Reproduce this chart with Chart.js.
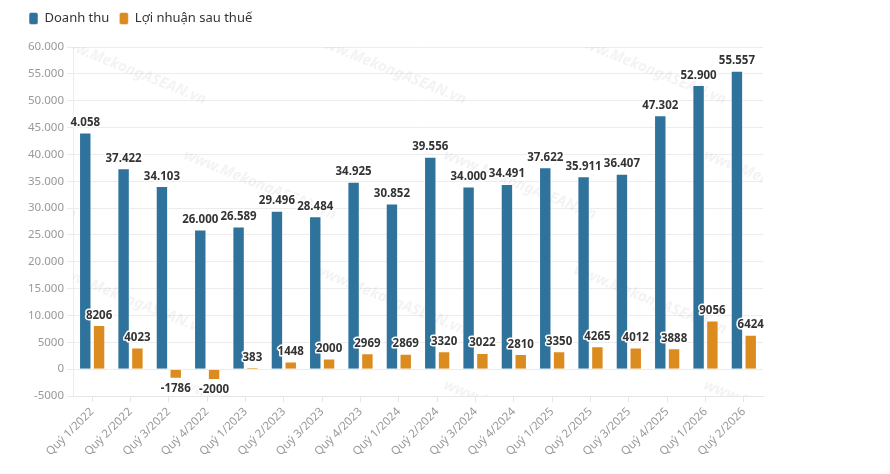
<!DOCTYPE html>
<html>
<head>
<meta charset="utf-8">
<script src="https://cdn.jsdelivr.net/npm/chart.js@4/dist/chart.umd.min.js"></script>
<style>
  html, body { margin: 0; padding: 0; background: #fff; }
  #wrap { width: 890px; height: 474px; }
</style>
</head>
<body>
<div id="wrap"><canvas id="myChart" width="890" height="474"></canvas></div>
<script>
// categories + series
const quarters = ["Quý 1/2022", "Quý 2/2022", "Quý 3/2022", "Quý 4/2022", "Quý 1/2023", "Quý 2/2023",
  "Quý 3/2023", "Quý 4/2023", "Quý 1/2024", "Quý 2/2024", "Quý 3/2024", "Quý 4/2024",
  "Quý 1/2025", "Quý 2/2025", "Quý 3/2025", "Quý 4/2025", "Quý 1/2026", "Quý 2/2026"];
const doanhThu = [44058, 37422, 34103, 26000, 26589, 29496, 28484, 34925, 30852, 39556, 34000, 34491,
  37622, 35911, 36407, 47302, 52900, 55557];
const loiNhuan = [8206, 4023, -1786, -2000, 383, 1448, 2000, 2969, 2869, 3320, 3022, 2810,
  3350, 4265, 4012, 3888, 9056, 6424];
// the source shows a truncated label on the first bar
const labelOverride = { 0: "4.058" };
const yMin = -5000, yMax = 60000, yStep = 5000;

function fmt(v) {
  if (Math.abs(v) >= 10000) return v.toLocaleString("de-DE");
  return String(v);
}

const FONT = "'Noto Sans', 'Open Sans', sans-serif";

// legend height tweak
const legendFit = {
  id: "legendFit",
  beforeInit(chart) {
    const orig = chart.legend.fit;
    chart.legend.fit = function () {
      orig.call(this);
      this.height = 45;
    };
  }
};

// faint watermark behind the bars
const watermark = {
  id: "watermark",
  beforeDatasetsDraw(chart) {
    const { ctx, chartArea: a } = chart;
    ctx.save();
    ctx.beginPath();
    ctx.rect(a.left, a.top, a.right - a.left, a.bottom - a.top);
    ctx.clip();
    ctx.font = "italic bold 15px " + FONT;
    ctx.fillStyle = "rgba(170,170,170,0.14)";
    ctx.textAlign = "center";
    ctx.textBaseline = "middle";
    let row = 0;
    for (let y = 70; y < 460; y += 115, row++) {
      for (let x = (row % 2 ? 0 : 130); x < 900; x += 260) {
        ctx.save();
        ctx.translate(x, y);
        ctx.rotate(22 * Math.PI / 180);
        ctx.fillText("www.MekongASEAN.vn", 0, 0);
        ctx.restore();
      }
    }
    ctx.restore();
  }
};

// value labels above/below bars with white halo
const valueLabels = {
  id: "valueLabels",
  afterDatasetsDraw(chart) {
    const ctx = chart.ctx;
    ctx.save();
    ctx.font = "bold 11.5px " + FONT;
    ctx.textAlign = "center";
    ctx.lineJoin = "round";
    ctx.lineWidth = 3;
    ctx.strokeStyle = "#fff";
    ctx.fillStyle = "#333";
    chart.data.datasets.forEach((ds, di) => {
      const meta = chart.getDatasetMeta(di);
      meta.data.forEach((bar, i) => {
        const v = ds.data[i];
        let txt = fmt(v);
        if (di === 0 && labelOverride[i]) txt = labelOverride[i];
        let y;
        if (v >= 0) {
          ctx.textBaseline = "bottom";
          y = bar.y - 4;
        } else {
          ctx.textBaseline = "top";
          y = bar.y + 4;
        }
        ctx.strokeText(txt, bar.x, y);
        ctx.fillText(txt, bar.x, y);
      });
    });
    ctx.restore();
  }
};

new Chart(document.getElementById("myChart"), {
  type: "bar",
  data: {
    labels: quarters,
    datasets: [
      {
        label: "Doanh thu",
        data: doanhThu,
        backgroundColor: "#2f739d",
        borderColor: "rgba(255,255,255,0.45)",
        borderWidth: 1
      },
      {
        label: "Lợi nhuận sau thuế",
        data: loiNhuan,
        backgroundColor: "#dc8b1f",
        borderColor: "rgba(255,255,255,0.45)",
        borderWidth: 1
      }
    ]
  },
  options: {
    responsive: false,
    animation: false,
    layout: { padding: { left: 19, right: 127, top: 2, bottom: 0 } },
    datasets: {
      bar: { categoryPercentage: 0.72, barPercentage: 0.9 }
    },
    plugins: {
      legend: {
        position: "top",
        align: "start",
        labels: {
          boxWidth: 9,
          boxHeight: 12,
          useBorderRadius: true,
          borderRadius: 2,
          padding: 10,
          color: "#333",
          font: { family: FONT, size: 13 }
        }
      },
      tooltip: { enabled: false }
    },
    scales: {
      x: {
        grid: { display: true, drawOnChartArea: false, offset: false, tickLength: 6, color: "#e6e6e6" },
        border: { color: "#e6e6e6" },
        ticks: {
          maxRotation: 45,
          minRotation: 45,
          autoSkip: false,
          color: "#999",
          font: { family: FONT, size: 11.5 }
        },
        afterFit(scale) { scale.height = 78; }
      },
      y: {
        min: yMin,
        max: yMax,
        grid: { color: "#ececec", tickLength: 6 },
        border: { color: "#ececec" },
        ticks: {
          stepSize: yStep,
          color: "#999",
          padding: 3,
          font: { family: FONT, size: 11.5 },
          callback: (v) => fmt(v)
        },
        afterFit(scale) { scale.width = 54; }
      }
    }
  },
  plugins: [legendFit, watermark, valueLabels]
});
</script>
</body>
</html>
